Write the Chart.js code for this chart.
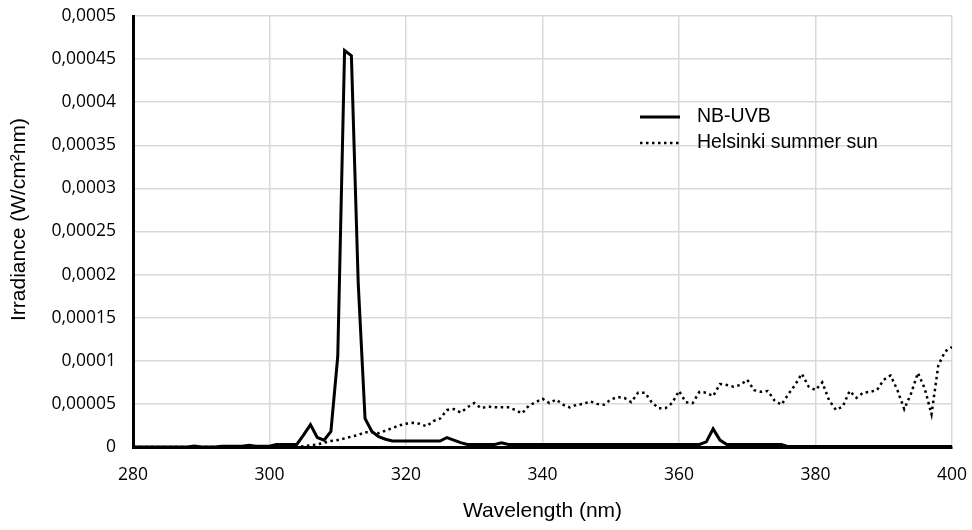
<!DOCTYPE html>
<html>
<head>
<meta charset="utf-8">
<script src="https://cdn.jsdelivr.net/npm/chart.js@4"></script>
<style>
  body { margin: 0; background: #fff; }
  #wrap { width: 972px; height: 530px; position: relative; }
</style>
</head>
<body>
<div id="wrap"><canvas id="irradiance"></canvas></div>
<script>
// wavelength grid, 1 nm steps 280..400
const wavelengths = [];
for (let w = 280; w <= 400; w++) wavelengths.push(w);

// NB-UVB lamp, 280..400 nm
const nb_uvb = [
    0, 0, 0, 0, 0, 0, 0, 0, 0, 0.0000012,                                  // 280-289
    0, 0, 0, 0.0000008, 0.000001, 0.000001, 0.000001, 0.000002, 0.000001, 0.000001, // 290-299
    0.000001, 0.000003, 0.000003, 0.000003, 0.000003, 0.000014, 0.000026, 0.000011, 0.000008, 0.000018, // 300-309
    0.000105, 0.00046, 0.000454, 0.00019, 0.000033, 0.000018, 0.000012, 0.000009, 0.000007, 0.000007, // 310-319
    0.000007, 0.000007, 0.000007, 0.000007, 0.000007, 0.000007, 0.000011, 0.000008, 0.000005, 0.000003, // 320-329
    0.000003, 0.000003, 0.000003, 0.000003, 0.000005, 0.000003, 0.000003, 0.000003, 0.000003, 0.000003, // 330-339
    0.000003, 0.000003, 0.000003, 0.000003, 0.000003, 0.000003, 0.000003, 0.000003, 0.000003, 0.000003, // 340-349
    0.000003, 0.000003, 0.000003, 0.000003, 0.000003, 0.000003, 0.000003, 0.000003, 0.000003, 0.000003, // 350-359
    0.000003, 0.000003, 0.000003, 0.000003, 0.000006, 0.000021, 0.000008, 0.000003, 0.000003, 0.000003, // 360-369
    0.000003, 0.000003, 0.000003, 0.000003, 0.000003, 0.000003, 0.0000005, 0.0000005, 0.0000005, 0.0000005, // 370-379
    0.0000005, 0.0000005, 0.0000005, 0.0000005, 0.0000005, 0.0000005, 0.0000005, 0.0000005, 0.0000005, 0.0000005, // 380-389
    0.0000005, 0.0000005, 0.0000005, 0.0000005, 0.0000005, 0.0000005, 0.0000005, 0.0000005, 0.0000005, 0.0000005, // 390-399
    0.0000005                                                              // 400
];

// Helsinki summer sun, 280..400 nm
const helsinki_sun = [
    0, 0, 0, 0, 0, 0, 0, 0, 0, 0,                                          // 280-289
    0, 0, 0, 0, 0, 0, 0, 0, 0, 0,                                          // 290-299
    0, 0, 0, 0, 0, 0.000001, 0.000002, 0.000003, 0.000005, 0.000007,       // 300-309
    0.000008, 0.00001, 0.000012, 0.000014, 0.000017, 0.000017, 0.000016, 0.000019, 0.000022, 0.000025, // 310-319
    0.000027, 0.000028, 0.000027, 0.000024, 0.00003, 0.000033, 0.000043, 0.000044, 0.00004, 0.000046, // 320-329
    0.000051, 0.000045, 0.000047, 0.000046, 0.000046, 0.000046, 0.000043, 0.000039, 0.000048, 0.000052, // 330-339
    0.000056, 0.000051, 0.000055, 0.000049, 0.000046, 0.000049, 0.00005, 0.000053, 0.00005, 0.000049, // 340-349
    0.000055, 0.000058, 0.000057, 0.000052, 0.000063, 0.000063, 0.000052, 0.000045, 0.000045, 0.000051, // 350-359
    0.000065, 0.000052, 0.000051, 0.000064, 0.000063, 0.000059, 0.000073, 0.000072, 0.00007, 0.000072, // 360-369
    0.000078, 0.000066, 0.000064, 0.000065, 0.000054, 0.000049, 0.000061, 0.000072, 0.000085, 0.00007, // 370-379
    0.000066, 0.000075, 0.000054, 0.000043, 0.000047, 0.000065, 0.000057, 0.000063, 0.000064, 0.000066, // 380-389
    0.000078, 0.000083, 0.000066, 0.000044, 0.000062, 0.000086, 0.000068, 0.000038, 0.000095, 0.000111, // 390-399
    0.000116                                                               // 400
];

const series_names = ['NB-UVB', 'Helsinki summer sun'];
const x_title = 'Wavelength (nm)';
const y_title = 'Irradiance (W/cm²nm)';

const tickFont = { family: '"Open Sans", "Noto Sans", sans-serif', size: 17.5 };
const titleFont = { family: '"Liberation Sans", Arial, sans-serif', size: 21 };
const legendFont = { family: '"Liberation Sans", Arial, sans-serif', size: 19.5 };

function fmt_comma(v) {
    return String(Number(v.toFixed(6))).replace('.', ',');
}

// legend inside the plot + y title sitting a bit above centre, like the original
const chartText = {
    id: 'chartText',
    afterDatasetsDraw(chart) {
        const ctx = chart.ctx;
        const x0 = 640, x1 = 680, tx = 697;
        const rows = [117, 143];
        ctx.save();
        chart.data.datasets.forEach((ds, i) => {
            ctx.beginPath();
            ctx.strokeStyle = ds.borderColor;
            ctx.lineWidth = ds.borderWidth;
            ctx.setLineDash(ds.borderDash || []);
            ctx.moveTo(x0, rows[i]);
            ctx.lineTo(x1, rows[i]);
            ctx.stroke();
            ctx.setLineDash([]);
            ctx.fillStyle = '#000';
            ctx.font = legendFont.size + 'px ' + legendFont.family;
            ctx.textBaseline = 'middle';
            ctx.fillText(ds.label, tx, rows[i]);
        });

        const area = chart.chartArea;
        ctx.translate(19, (area.top + area.bottom) / 2 - 12);
        ctx.rotate(-Math.PI / 2);
        ctx.font = titleFont.size + 'px ' + titleFont.family;
        ctx.textAlign = 'center';
        ctx.textBaseline = 'middle';
        ctx.fillText(y_title, 0, 0);
        ctx.restore();
    }
};

function noPad(scale) {
    scale.paddingTop = 0;
    scale.paddingBottom = 0;
    scale.paddingLeft = 0;
    scale.paddingRight = 0;
}

const ctx = document.getElementById('irradiance');
const irradianceChart = new Chart(ctx, {
    type: 'line',
    data: {
        datasets: [{
            label: series_names[0],
            data: wavelengths.map((w, i) => ({ x: w, y: nb_uvb[i] })),
            borderColor: '#000',
            borderWidth: 3,
            pointRadius: 0,
            tension: 0,
            fill: false
        },
        {
            label: series_names[1],
            data: wavelengths.map((w, i) => ({ x: w, y: helsinki_sun[i] })),
            borderColor: '#000',
            borderWidth: 2.5,
            borderDash: [2.5, 3.5],
            pointRadius: 0,
            tension: 0,
            fill: false
        }]
    },
    options: {
        responsive: true,
        maintainAspectRatio: false,
        animation: false,
        layout: { padding: { top: 16, right: 20, left: 0, bottom: 0 } },
        plugins: {
            legend: { display: false },
            tooltip: { enabled: false }
        },
        scales: {
            x: {
                type: 'linear',
                min: 280,
                max: 400,
                ticks: { stepSize: 20, color: '#000', font: tickFont, padding: 18 },
                grid: { color: '#d9d9d9', lineWidth: 1.5, drawTicks: false },
                border: { display: true, color: '#000', width: 3 },
                title: { display: true, text: x_title, color: '#000', font: titleFont, padding: { top: 0, bottom: 6 } },
                afterFit(scale) { scale.height = 83; noPad(scale); }
            },
            y: {
                min: 0,
                max: 0.0005,
                ticks: { stepSize: 0.00005, color: '#000', font: tickFont, padding: 17, callback: v => fmt_comma(v) },
                grid: { color: '#d9d9d9', lineWidth: 1.5, drawTicks: false },
                border: { display: true, color: '#000', width: 3 },
                title: { display: false },
                afterFit(scale) { scale.width = 133; noPad(scale); }
            }
        }
    },
    plugins: [chartText]
});
</script>
</body>
</html>
